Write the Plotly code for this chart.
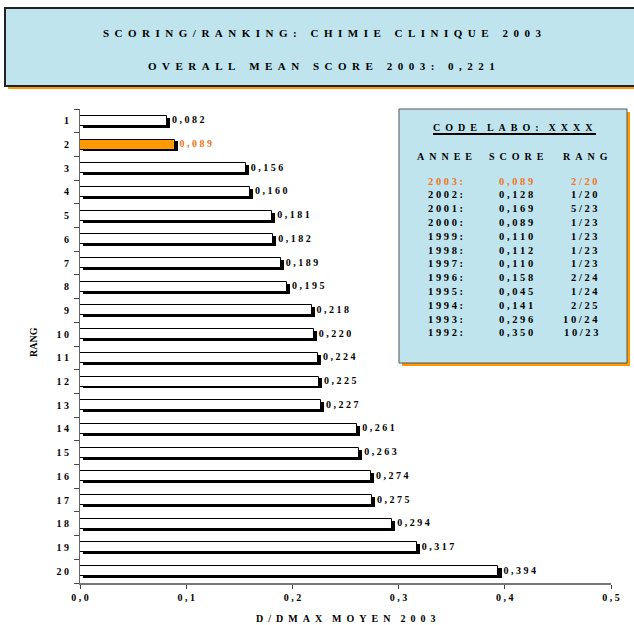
import plotly.graph_objects as go

# Ranking of all labs (rank -> mean D/Dmax score 2003)
ranks = list(range(1, 21))
scores = [0.082, 0.089, 0.156, 0.160, 0.181, 0.182, 0.189, 0.195, 0.218, 0.220,
          0.224, 0.225, 0.227, 0.261, 0.263, 0.274, 0.275, 0.294, 0.317, 0.394]
own_rank = 2

# History of the lab
hist_years = ["2003", "2002", "2001", "2000", "1999", "1998", "1997", "1996",
              "1995", "1994", "1993", "1992"]
hist_scores = ["0,089", "0,128", "0,169", "0,089", "0,110", "0,112", "0,110",
               "0,158", "0,045", "0,141", "0,296", "0,350"]
hist_ranks = ["2/20", "1/20", "5/23", "1/23", "1/23", "1/23", "1/23", "2/24",
              "1/24", "2/25", "10/24", "10/23"]

x_ticks = [0.0, 0.1, 0.2, 0.3, 0.4, 0.5]

FONT = "Liberation Serif"
ORANGE = "#ff9900"
ORANGE_TXT = "#f47320"
BOX_BLUE = "#bfe4ee"
NB = "\u00a0"

W, H = 634, 625
ML, MR, MT, MB = 80, 23, 109, 42
PW, PH = W - ML - MR, H - MT - MB


def spaced(s, gap=1, word=3):
    return (NB * word).join((NB * gap).join(w) for w in s.split(" "))


def fmt(v, nd=3):
    return f"{v:.{nd}f}".replace(".", ",")


def px(x):
    return (x - ML) / PW


def py(y):
    return (H - MB - y) / PH


def note(x, y, text, size=10, color="black", xanchor="center", **kw):
    return dict(xref="paper", yref="paper", x=px(x), y=py(y), text=text,
                xanchor=xanchor, yanchor="middle", showarrow=False,
                font=dict(family=FONT, size=size, color=color, weight="bold"), **kw)


fill = [ORANGE if r == own_rank else "white" for r in ranks]
label_col = [ORANGE_TXT if r == own_rank else "black" for r in ranks]

fig = go.Figure()

# drop shadow of each bar
fig.add_trace(go.Bar(
    y=ranks, x=scores, base=0.003, orientation="h",
    width=0.42, offset=-0.21 + 0.08,
    marker=dict(color="black", line=dict(width=0)),
    hoverinfo="skip", showlegend=False,
))
# the bars themselves
fig.add_trace(go.Bar(
    y=ranks, x=scores, orientation="h",
    width=0.42, offset=-0.21,
    marker=dict(color=fill, line=dict(color="black", width=1)),
    showlegend=False,
))
# value labels at the end of each bar
fig.add_trace(go.Scatter(
    y=ranks, x=scores, mode="text",
    text=[NB * 2 + spaced(fmt(v)) for v in scores], textposition="middle right",
    textfont=dict(family=FONT, size=10, color=label_col, weight="bold"),
    cliponaxis=False, hoverinfo="skip", showlegend=False,
))

shapes = []
annotations = []

# title panel
shapes.append(dict(type="rect", xref="paper", yref="paper",
                   x0=px(8), x1=px(642), y0=py(89), y1=py(11),
                   fillcolor=ORANGE, line=dict(width=0), layer="above"))
shapes.append(dict(type="rect", xref="paper", yref="paper",
                   x0=px(5), x1=px(639), y0=py(86), y1=py(8),
                   fillcolor=BOX_BLUE, line=dict(color="#222222", width=2), layer="above"))
annotations.append(note(322, 33, spaced("SCORING/RANKING: CHIMIE CLINIQUE 2003", 2, 5), size=11))
annotations.append(note(321, 66, spaced("OVERALL MEAN SCORE 2003: 0,221", 2, 5), size=11))

# lab history panel
shapes.append(dict(type="rect", xref="paper", yref="paper",
                   x0=px(402), x1=px(630), y0=py(366), y1=py(112),
                   fillcolor=ORANGE, line=dict(width=0), layer="above"))
shapes.append(dict(type="rect", xref="paper", yref="paper",
                   x0=px(399), x1=px(627), y0=py(363), y1=py(109),
                   fillcolor=BOX_BLUE, line=dict(color="#555555", width=1), layer="above"))
annotations.append(note(513, 128, spaced("CODE LABO: XXXX", 2, 4)))
shapes.append(dict(type="line", xref="paper", yref="paper",
                   x0=px(433), x1=px(596), y0=py(134), y1=py(134),
                   line=dict(color="black", width=2), layer="above"))
for txt, cx in [("ANNEE", 444), ("SCORE", 516), ("RANG", 585)]:
    annotations.append(note(cx, 156, spaced(txt, 2)))
for i, (yr, sc, rk) in enumerate(zip(hist_years, hist_scores, hist_ranks)):
    col = ORANGE_TXT if i == 0 else "black"
    yy = 181 + i * 13.8
    annotations.append(note(426, yy, spaced(yr + ":"), size=10.5, color=col, xanchor="left"))
    annotations.append(note(497, yy, spaced(sc), size=10.5, color=col, xanchor="left"))
    annotations.append(note(600, yy, spaced(rk), size=10.5, color=col, xanchor="right"))

# axis titles
annotations.append(note(345, 618, spaced("D/DMAX MOYEN 2003", 2, 4)))
annotations.append(note(33, 342, "RANG", textangle=-90))

fig.update_layout(
    width=W, height=H,
    margin=dict(l=ML, r=MR, t=MT, b=MB, pad=0),
    paper_bgcolor="white", plot_bgcolor="white",
    barmode="overlay", bargap=0,
    shapes=shapes, annotations=annotations,
    xaxis=dict(range=[0, 0.5], tickvals=x_ticks,
               ticktext=[spaced(fmt(v, 1)) for v in x_ticks],
               ticks="outside", ticklen=4, tickcolor="#444444",
               showline=True, linecolor="#777777", linewidth=2,
               showgrid=False, zeroline=False,
               tickfont=dict(family=FONT, size=10, color="black", weight="bold")),
    yaxis=dict(range=[20.5, 0.5], tickvals=ranks,
               ticktext=[spaced(str(r)) for r in ranks],
               ticks="", ticklabelstandoff=8,
               minor=dict(tick0=0.5, dtick=1, ticks="outside", ticklen=5, tickcolor="#444444"),
               showline=True, linecolor="#666666", linewidth=1,
               showgrid=False, zeroline=False,
               tickfont=dict(family=FONT, size=10, color="black", weight="bold")),
)

fig.write_html("out.html")
